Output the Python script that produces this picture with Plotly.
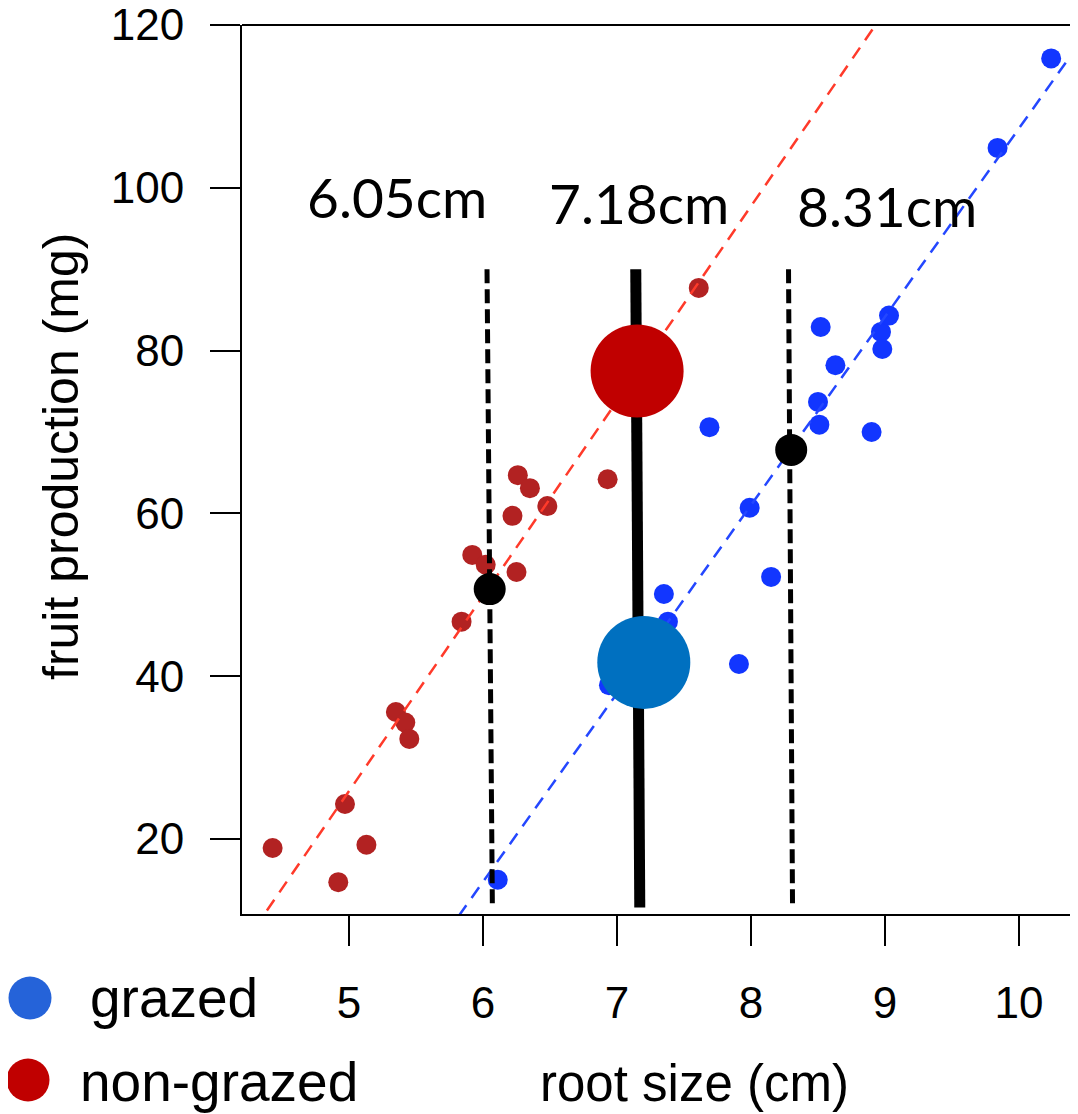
import numpy as np
import plotly.graph_objects as go

# ---------------- data ----------------
nongrazed_x = [4.43, 4.92, 4.97, 5.13, 5.35, 5.42, 5.45, 5.84, 5.92, 6.02, 6.22, 6.25, 6.26, 6.35, 6.48, 6.93, 7.61]
nongrazed_y = [18.9, 14.7, 24.3, 19.3, 35.6, 34.3, 32.3, 46.7, 54.9, 53.7, 59.7, 52.8, 64.7, 63.1, 60.9, 64.2, 87.7]

grazed_x = [6.11, 6.94, 7.35, 7.38, 7.69, 7.91, 7.99, 8.15, 8.50, 8.51, 8.52, 8.63, 8.90, 8.97, 8.98, 9.03, 9.84, 10.24]
grazed_y = [15.0, 38.9, 50.1, 46.7, 70.6, 41.5, 60.7, 52.2, 73.7, 70.9, 82.9, 78.2, 70.0, 82.3, 80.2, 84.3, 104.9, 115.9]

# regression fits (intercept, slope)
nongrazed_fit = (-93.86, 23.95)
grazed_fit = (-124.1, 23.14)

# reference cut lines (x at top, x at bottom) and their y extent
cut_low_x = [6.03, 6.07]
cut_mid_x = [7.14, 7.17]
cut_high_x = [8.28, 8.31]
cut_y = [90.0, 11.6]

# intersection points
cross_x = [6.05, 8.30]
cross_y = [50.7, 67.8]

# group means at the mid cut
mean_nongrazed = (7.15, 77.5)
mean_grazed = (7.20, 41.7)

cut_labels = ["6.05cm", "7.18cm", "8.31cm"]

x_ticks = [5, 6, 7, 8, 9, 10]
y_ticks = [20, 40, 60, 80, 100, 120]
x_range = [4.2015, 10.4403]
y_range = [10.79, 120.0]

# ---------------- styling ----------------
RED_PT = "#B22222"
BLUE_PT = "#1236FF"
RED_LN = "#FF3A2A"
BLUE_LN = "#2447FF"
BIG_RED = "#C00000"
BIG_BLUE = "#0070C0"
LEG_BLUE = "#2563D9"
LEG_RED = "#C00000"
ARIAL = "Liberation Sans, Arial, sans-serif"
CAL = "Lato, Carlito, Calibri, sans-serif"

OFF = 8  # page body margin
W, H = 1078 - OFF, 1114 - OFF
PLOT_L, PLOT_T, PLOT_R, PLOT_B = 242, 25, 1078, 914   # plot box in page pixels
ML, MT = PLOT_L - OFF, PLOT_T - OFF
MR = (W + OFF) - PLOT_R
MB = (H + OFF) - PLOT_B
PW, PH = PLOT_R - PLOT_L, PLOT_B - PLOT_T


def px_to_paper(px, py):
    return (px - PLOT_L) / PW, (PLOT_B - py) / PH


fig = go.Figure()

# data points
fig.add_trace(go.Scatter(x=nongrazed_x, y=nongrazed_y, mode="markers",
                         marker=dict(size=20, color=RED_PT, line=dict(width=0)),
                         showlegend=False, hoverinfo="skip"))
fig.add_trace(go.Scatter(x=grazed_x, y=grazed_y, mode="markers",
                         marker=dict(size=20, color=BLUE_PT, line=dict(width=0)),
                         showlegend=False, hoverinfo="skip"))

# regression lines
xx = np.array(x_range)
for (b0, b1), col in [(nongrazed_fit, RED_LN), (grazed_fit, BLUE_LN)]:
    fig.add_trace(go.Scatter(x=xx, y=b0 + b1 * xx, mode="lines",
                             line=dict(color=col, width=2.5, dash="13px,9px"),
                             showlegend=False, hoverinfo="skip"))

# vertical cut lines
for cx in (cut_low_x, cut_high_x):
    fig.add_trace(go.Scatter(x=cx, y=cut_y, mode="lines",
                             line=dict(color="black", width=5, dash="14px,6px"),
                             showlegend=False, hoverinfo="skip"))
fig.add_trace(go.Scatter(x=cut_mid_x, y=cut_y, mode="lines",
                         line=dict(color="black", width=11),
                         showlegend=False, hoverinfo="skip"))

# intersection points
fig.add_trace(go.Scatter(x=cross_x, y=cross_y, mode="markers",
                         marker=dict(size=32, color="black", line=dict(width=0)),
                         showlegend=False, hoverinfo="skip"))

# group means
fig.add_trace(go.Scatter(x=[mean_nongrazed[0]], y=[mean_nongrazed[1]], mode="markers",
                         marker=dict(size=93, color=BIG_RED, line=dict(width=0)),
                         showlegend=False, hoverinfo="skip"))
fig.add_trace(go.Scatter(x=[mean_grazed[0]], y=[mean_grazed[1]], mode="markers",
                         marker=dict(size=93, color=BIG_BLUE, line=dict(width=0)),
                         showlegend=False, hoverinfo="skip"))

annotations = []
# cut labels
label_pos = [(397, 197.5), (638.5, 203.5), (886.5, 205.5)]
for txt, (px, py) in zip(cut_labels, label_pos):
    ax_, ay_ = px_to_paper(px, py)
    annotations.append(dict(text=txt, x=ax_, y=ay_, xref="paper", yref="paper",
                            xanchor="center", yanchor="middle", showarrow=False,
                            font=dict(family=CAL, size=55, color="black")))

# axis titles
tx, ty = px_to_paper(694, 1083)
annotations.append(dict(text="root size (cm)", x=tx, y=ty, xref="paper", yref="paper",
                        xanchor="center", yanchor="middle", showarrow=False,
                        font=dict(family=ARIAL, size=51, color="black")))
tx, ty = px_to_paper(61, 457)
annotations.append(dict(text="fruit production (mg)", x=tx, y=ty, xref="paper", yref="paper",
                        xanchor="center", yanchor="middle", showarrow=False, textangle=-90,
                        font=dict(family=ARIAL, size=50, color="black")))

# legend
legend_items = [("grazed", LEG_BLUE, (30, 998), (88, 998)),
                ("non-grazed", LEG_RED, (28, 1080), (78, 1082))]
shapes = []
for name, col, (cx, cy), (lx, ly) in legend_items:
    pcx, pcy = px_to_paper(cx, cy)
    shapes.append(dict(type="circle", xref="paper", yref="paper",
                       xsizemode="pixel", ysizemode="pixel",
                       xanchor=pcx, yanchor=pcy, x0=-21.5, x1=21.5, y0=-21.5, y1=21.5,
                       fillcolor=col, line=dict(width=0)))
    plx, ply = px_to_paper(lx, ly)
    annotations.append(dict(text=name, x=plx, y=ply, xref="paper", yref="paper",
                            xanchor="left", yanchor="middle", showarrow=False,
                            font=dict(family=ARIAL, size=55, color="black")))

# top border of the box
shapes.append(dict(type="line", xref="paper", yref="paper", x0=0, x1=1, y0=1, y1=1,
                   line=dict(color="black", width=2)))

axis_common = dict(showgrid=False, zeroline=False, showline=True, linecolor="black",
                   linewidth=2, ticks="outside", ticklen=30, tickwidth=2, tickcolor="black",
                   ticklabeloverflow="allow", automargin=False,
                   tickfont=dict(family=ARIAL, size=44, color="black"))

fig.update_layout(
    width=W, height=H,
    margin=dict(l=ML, r=MR, t=MT, b=MB, pad=0, autoexpand=False),
    paper_bgcolor="white", plot_bgcolor="white",
    xaxis=dict(range=x_range, tickvals=x_ticks, ticktext=[str(v) for v in x_ticks],
               ticklabelstandoff=19, **axis_common),
    yaxis=dict(range=y_range, tickvals=y_ticks, ticktext=[str(v) for v in y_ticks],
               ticklabelstandoff=17, **axis_common),
    annotations=annotations,
    shapes=shapes,
    showlegend=False,
)

fig.write_html("out.html")
